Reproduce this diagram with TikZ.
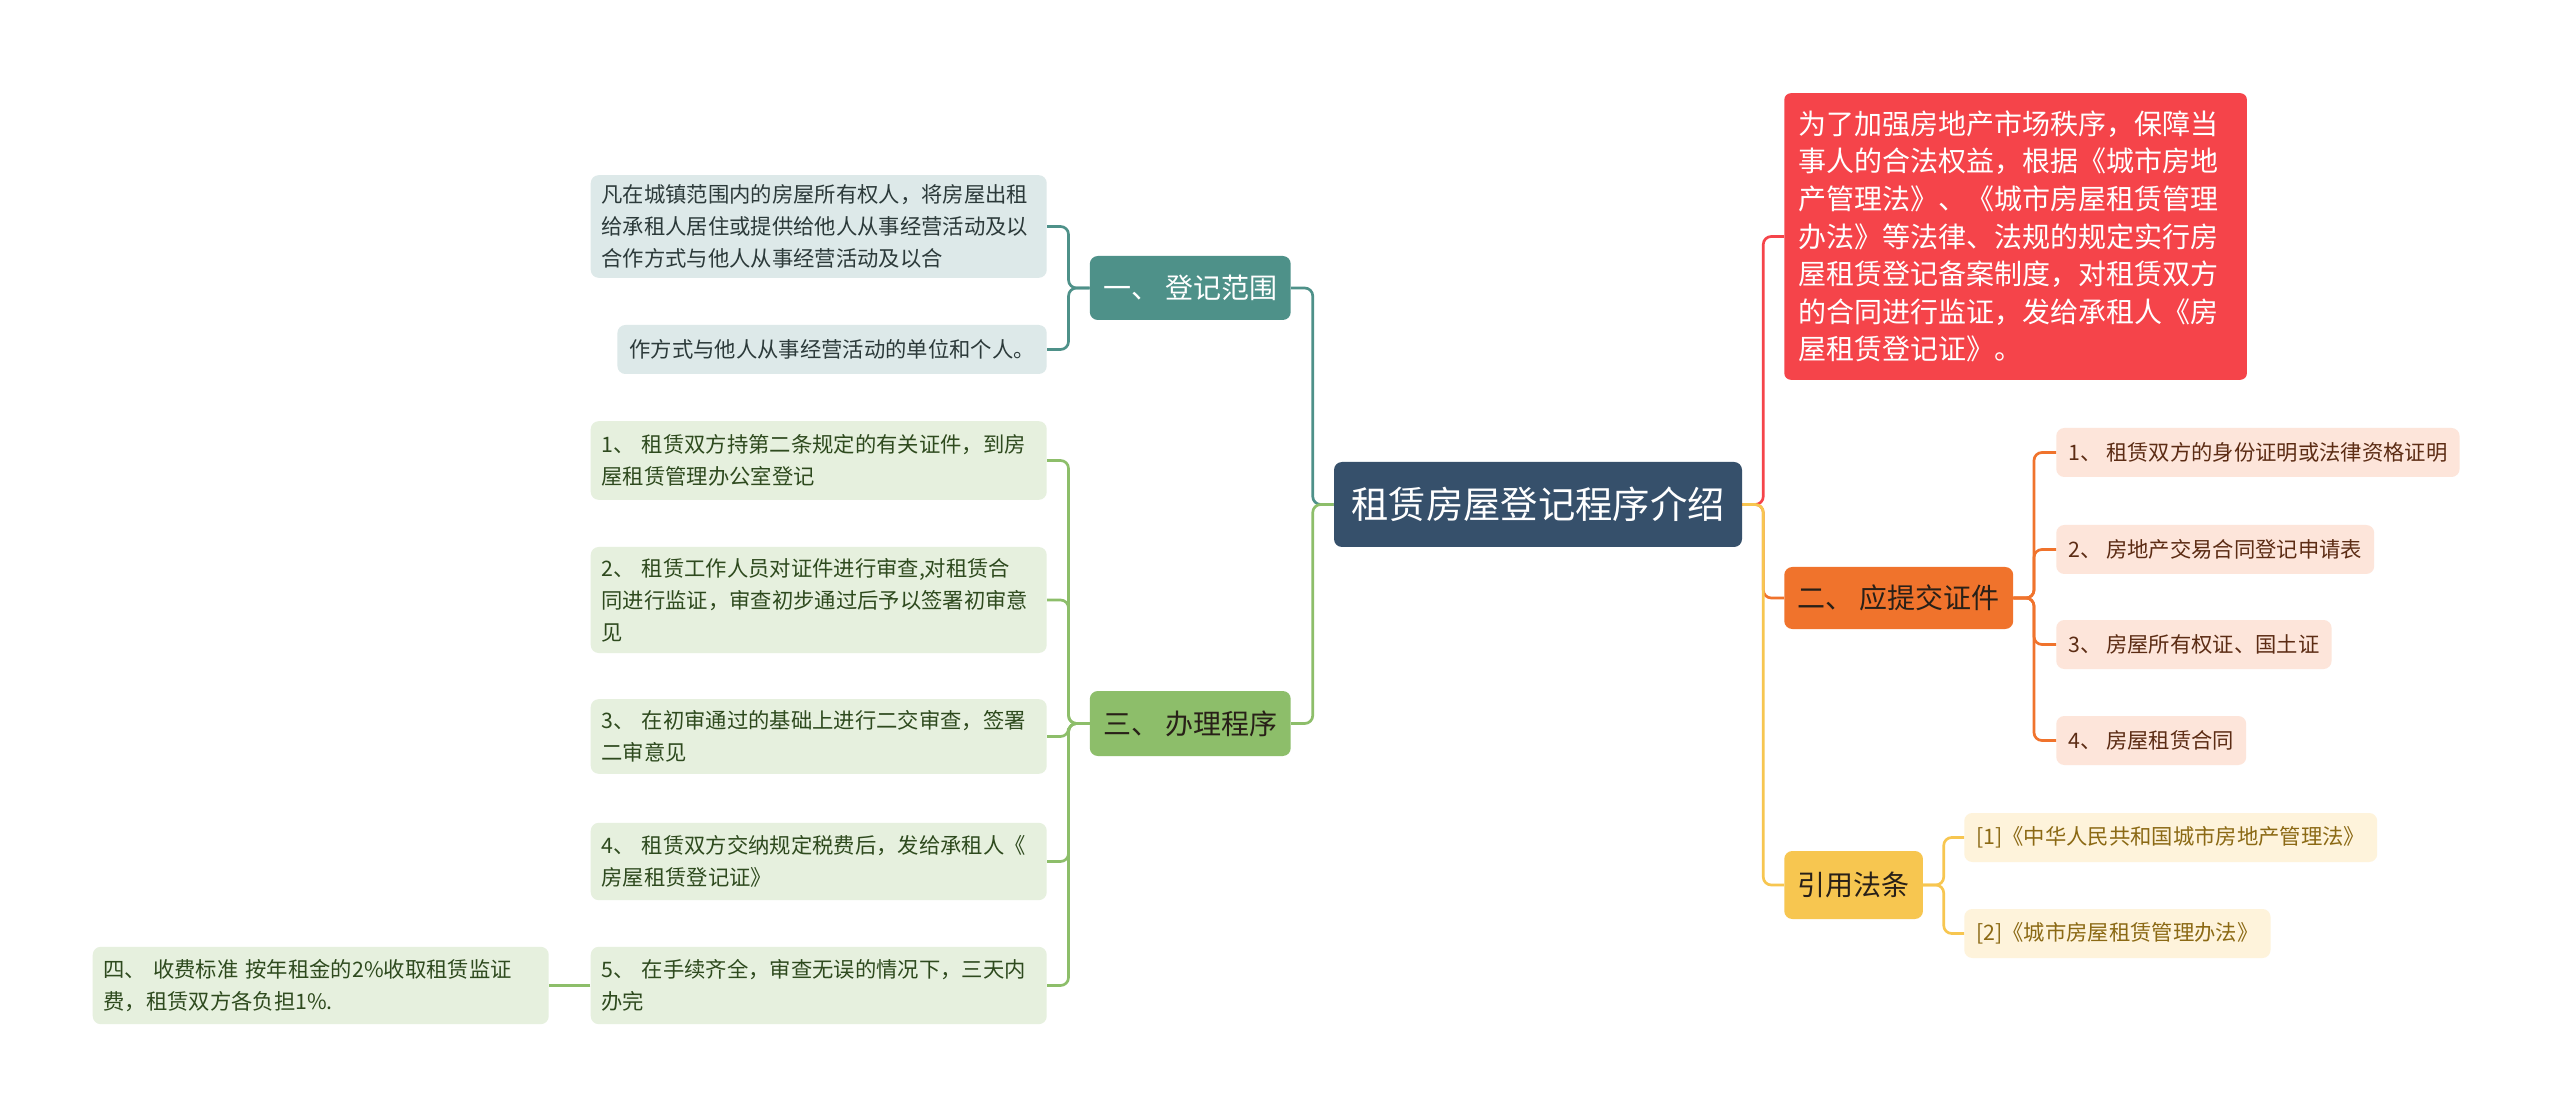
\documentclass[tikz,border=0pt]{standalone}
\usepackage{fontspec}
\setmainfont{Noto Sans CJK SC}
\usepackage{xcolor}
\definecolor{cRoot}{RGB}{54,80,107}
\definecolor{cRed}{RGB}{245,68,74}
\definecolor{cOrg}{RGB}{240,115,44}
\definecolor{cYlw}{RGB}{247,198,80}
\definecolor{cTeal}{RGB}{78,145,137}
\definecolor{cGrn}{RGB}{141,190,106}
\definecolor{cOrgL}{RGB}{253,229,218}
\definecolor{cYlwL}{RGB}{254,243,219}
\definecolor{cTealL}{RGB}{221,233,233}
\definecolor{cGrnL}{RGB}{230,240,222}
\definecolor{cOrgT}{RGB}{92,44,20}
\definecolor{cYlwT}{RGB}{139,105,20}
\definecolor{cTealT}{RGB}{44,58,58}
\definecolor{cGrnT}{RGB}{46,74,30}
\definecolor{cDark}{RGB}{40,32,24}
\tikzset{
  djroot/.style={fill=cRoot, text=white, rounded corners=6pt, minimum height=63.75pt,
                 inner xsep=13pt, font=\fontsize{28}{34}\selectfont},
  djred/.style={fill=cRed, text=white, rounded corners=5pt, text width=325pt,
                inner xsep=11pt, minimum height=215pt, align=left,
                font=\fontsize{21}{28.2}\selectfont},
  djmain/.style={rounded corners=6pt, inner xsep=10pt, font=\fontsize{21}{25}\selectfont},
  djorg/.style={djmain, fill=cOrg, text=cDark, minimum height=46.5pt},
  djylw/.style={djmain, fill=cYlw, text=cDark, minimum height=51pt},
  djteal/.style={djmain, fill=cTeal, text=white, minimum height=48pt},
  djgrn/.style={djmain, fill=cGrn, text=cDark, minimum height=48.75pt},
  djsub/.style={rounded corners=6pt, inner xsep=9pt, minimum height=36.75pt,
                align=left, font=\fontsize{16}{24}\selectfont},
  djsubo/.style={djsub, fill=cOrgL, text=cOrgT},
  djsuby/.style={djsub, fill=cYlwL, text=cYlwT},
  djsubt/.style={djsub, fill=cTealL, text=cTealT},
  djsubg/.style={djsub, fill=cGrnL, text=cGrnT},
  djwide/.style={text width=326pt, inner xsep=8pt},
  djw/.style={line width=2pt, rounded corners=6pt}
}
\begin{document}
\begin{tikzpicture}[x=0.75pt,y=-0.75pt]
  \useasboundingbox[fill=white] (0,0) rectangle (2560,1119);
  \node[djroot] (root) at (1538,504.5) {租赁房屋登记程序介绍};
  \node[djred, anchor=west] (law) at (1784,236.5) {为了加强房地产市场秩序，保障当\\事人的合法权益，根据《城市房地\\产管理法》、《城市房屋租赁管理\\办法》等法律、法规的规定实行房\\屋租赁登记备案制度，对租赁双方\\的合同进行监证，发给承租人《房\\屋租赁登记证》。};
  \node[djorg, anchor=west] (docs) at (1784,598) {二、 应提交证件};
  \node[djsubo, anchor=west] (d1) at (2056,452.5) {1、 租赁双方的身份证明或法律资格证明};
  \node[djsubo, anchor=west] (d2) at (2056,549.5) {2、 房地产交易合同登记申请表};
  \node[djsubo, anchor=west] (d3) at (2056,644.5) {3、 房屋所有权证、国土证};
  \node[djsubo, anchor=west] (d4) at (2056,740.5) {4、 房屋租赁合同};
  \node[djylw, anchor=west] (cite) at (1784,885) {引用法条};
  \node[djsuby, anchor=west] (c1) at (1964,837.5) {[1]《中华人民共和国城市房地产管理法》};
  \node[djsuby, anchor=west] (c2) at (1964,933.5) {[2]《城市房屋租赁管理办法》};
  \node[djteal, anchor=east] (scope) at (1291,288) {一、 登记范围};
  \node[djsubt, djwide, anchor=east, minimum height=77pt] (s1) at (1047,226.5) {凡在城镇范围内的房屋所有权人，将房屋出租\\给承租人居住或提供给他人从事经营活动及以\\合作方式与他人从事经营活动及以合};
  \node[djsubt, anchor=east] (s2) at (1047,349.5) {作方式与他人从事经营活动的单位和个人。};
  \node[djgrn, anchor=east] (proc) at (1291,723.5) {三、 办理程序};
  \node[djsubg, djwide, anchor=east, minimum height=59pt] (p1) at (1047,460.5) {1、 租赁双方持第二条规定的有关证件，到房\\屋租赁管理办公室登记};
  \node[djsubg, djwide, anchor=east, minimum height=79.5pt] (p2) at (1047,600) {2、 租赁工作人员对证件进行审查,对租赁合\\同进行监证，审查初步通过后予以签署初审意\\见};
  \node[djsubg, djwide, anchor=east, minimum height=56pt] (p3) at (1047,736.5) {3、 在初审通过的基础上进行二交审查，签署\\二审意见};
  \node[djsubg, djwide, anchor=east, minimum height=58pt] (p4) at (1047,861.5) {4、 租赁双方交纳规定税费后，发给承租人《\\房屋租赁登记证》};
  \node[djsubg, djwide, anchor=east, minimum height=58pt] (p5) at (1047,985.5) {5、 在手续齐全，审查无误的情况下，三天内\\办完};
  \node[djsubg, djwide, anchor=east, minimum height=58pt] (fee) at (549,985.5) {四、 收费标准 按年租金的2\%收取租赁监证\\费，租赁双方各负担1\%.};
  \draw[djw, draw=cRed] (root.east) -- ++(21,0) |- (law.west);
  \draw[djw, draw=cOrg] (root.east) -- ++(21,0) |- (docs.west);
  \draw[djw, draw=cYlw] (root.east) -- ++(21,0) |- (cite.west);
  \draw[djw, draw=cTeal] (root.west) -- ++(-21,0) |- (scope.east);
  \draw[djw, draw=cGrn] (root.west) -- ++(-21,0) |- (proc.east);
  \foreach \n in {d1,d2,d3,d4}
    \draw[djw, draw=cOrg] (docs.east) -- ++(20.5,0) |- (\n.west);
  \foreach \n in {c1,c2}
    \draw[djw, draw=cYlw] (cite.east) -- ++(20.5,0) |- (\n.west);
  \foreach \n in {s1,s2}
    \draw[djw, draw=cTeal] (scope.west) -- ++(-21,0) |- (\n.east);
  \foreach \n in {p1,p2,p3,p4,p5}
    \draw[djw, draw=cGrn] (proc.west) -- ++(-21,0) |- (\n.east);
  \draw[djw, draw=cGrn] (p5.west) -- (fee.east);
\end{tikzpicture}
\end{document}
